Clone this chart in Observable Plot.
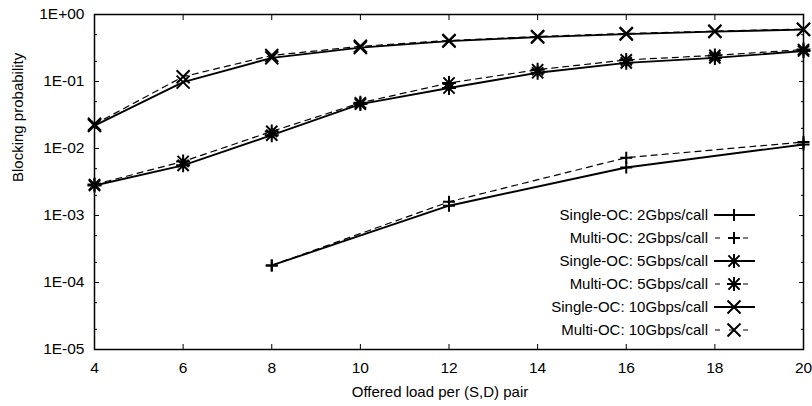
<!DOCTYPE html>
<html><head><meta charset="utf-8">
<script src="https://cdn.jsdelivr.net/npm/d3@7"></script>
<script src="https://cdn.jsdelivr.net/npm/@observablehq/plot@0.6"></script>
<style>body{margin:0;background:#fff} svg{display:block}</style>
</head><body><div id="chart"></div>
<script>
// ---- data ----
const loads = [4, 6, 8, 10, 12, 14, 16, 18, 20];
const loads2 = [8, 12, 16, 20];
const single2 = [0.00018, 0.0014, 0.0052, 0.0115];
const multi2  = [0.00018, 0.0016, 0.0073, 0.0125];
const single5 = [0.0028, 0.0056, 0.0158, 0.046, 0.080, 0.135, 0.190, 0.225, 0.285];
const multi5  = [0.0029, 0.0064, 0.0180, 0.048, 0.095, 0.150, 0.210, 0.245, 0.300];
const single10 = [0.022, 0.098, 0.225, 0.320, 0.400, 0.460, 0.510, 0.555, 0.595];
const multi10  = [0.023, 0.118, 0.245, 0.335, 0.410, 0.470, 0.520, 0.565, 0.605];
const seriesNames = ["Single-OC: 2Gbps/call", "Multi-OC: 2Gbps/call", "Single-OC: 5Gbps/call",
                     "Multi-OC: 5Gbps/call", "Single-OC: 10Gbps/call", "Multi-OC: 10Gbps/call"];
const xTicks = [4, 6, 8, 10, 12, 14, 16, 18, 20];
const yTicks = [1e-5, 1e-4, 1e-3, 1e-2, 1e-1, 1];
const yTickLabels = ["1E-05", "1E-04", "1E-03", "1E-02", "1E-01", "1E+00"];
const yMinorTicks = [2e-5, 5e-5, 2e-4, 5e-4, 2e-3, 5e-3, 2e-2, 5e-2, 0.2, 0.5];
const xLabel = "Offered load per (S,D) pair";
const yLabel = "Blocking probability";

// ---- gnuplot-like point symbols ----
const plusSym = {draw(c, s) { const r = Math.sqrt(s / Math.PI);
  c.moveTo(-r, 0); c.lineTo(r, 0); c.moveTo(0, -r); c.lineTo(0, r); }};
const timesSym = {draw(c, s) { const r = Math.sqrt(s / Math.PI);
  c.moveTo(-r, -r); c.lineTo(r, r); c.moveTo(-r, r); c.lineTo(r, -r); }};
const starSym = {draw(c, s) { const r = Math.sqrt(s / Math.PI); const q = r * 0.8;
  c.moveTo(-r, 0); c.lineTo(r, 0); c.moveTo(0, -r); c.lineTo(0, r);
  c.moveTo(-q, -q); c.lineTo(q, q); c.moveTo(-q, q); c.lineTo(q, -q); }};

const seriesDefs = [
  {name: seriesNames[0], xs: loads2, ys: single2, dashed: false, sym: plusSym, r: 6},
  {name: seriesNames[1], xs: loads2, ys: multi2, dashed: true, sym: plusSym, r: 6},
  {name: seriesNames[2], xs: loads, ys: single5, dashed: false, sym: starSym, r: 7},
  {name: seriesNames[3], xs: loads, ys: multi5, dashed: true, sym: starSym, r: 7},
  {name: seriesNames[4], xs: loads, ys: single10, dashed: false, sym: timesSym, r: 6.5},
  {name: seriesNames[5], xs: loads, ys: multi10, dashed: true, sym: timesSym, r: 6.5}
];
const rows = seriesDefs.flatMap(s => s.xs.map((x, i) => ({name: s.name, x, y: s.ys[i], dashed: s.dashed})));
const solidRows = rows.filter(d => !d.dashed);
const dashRows = rows.filter(d => d.dashed);

const FONT = "'Liberation Sans', Arial, Helvetica, sans-serif";
const DASH = "6,5";

const plot = Plot.plot({
  width: 812, height: 406,
  marginLeft: 94, marginRight: 9, marginTop: 14, marginBottom: 57,
  style: {fontFamily: FONT, fontSize: "15px", color: "#000", background: "#fff"},
  x: {domain: [4, 20]},
  y: {type: "log", domain: [1e-5, 1]},
  marks: [
    // tick labels
    Plot.axisY(yTicks, {anchor: "left", tickSize: 0, tickPadding: 10, label: null, fontSize: 15.5,
      tickFormat: d => yTickLabels[yTicks.indexOf(d)]}),
    Plot.axisX(xTicks, {anchor: "bottom", tickSize: 0, tickPadding: 12, label: null, fontSize: 15.5}),
    // inward ticks on all four sides
    Plot.axisY(yTicks, {anchor: "left", tickSize: -5, tickFormat: () => "", label: null}),
    Plot.axisY(yTicks, {anchor: "right", tickSize: -5, tickFormat: () => "", label: null}),
    Plot.axisY(yMinorTicks, {anchor: "left", tickSize: -3, tickFormat: () => "", label: null}),
    Plot.axisY(yMinorTicks, {anchor: "right", tickSize: -3, tickFormat: () => "", label: null}),
    Plot.axisX(xTicks, {anchor: "bottom", tickSize: -5, tickFormat: () => "", label: null}),
    Plot.axisX(xTicks, {anchor: "top", tickSize: -5, tickFormat: () => "", label: null}),
    // axis titles
    Plot.text([yLabel], {text: d => d, frameAnchor: "left", rotate: -90, dx: -76, fontSize: 15}),
    Plot.text([xLabel], {text: d => d, frameAnchor: "bottom", dy: 47, dx: -9, fontSize: 15}),
    // data lines
    Plot.line(dashRows, {x: "x", y: "y", z: "name", stroke: "#000", strokeWidth: 1.2, strokeDasharray: DASH}),
    Plot.line(solidRows, {x: "x", y: "y", z: "name", stroke: "#000", strokeWidth: 1.9}),
    // data points
    ...seriesDefs.map(s => Plot.dot(rows.filter(d => d.name === s.name),
      {x: "x", y: "y", symbol: s.sym, r: s.r, stroke: "#000", strokeWidth: 2, fill: "none"})),
    Plot.frame({stroke: "#000", strokeWidth: 1.5})
  ]
});

// ---- legend (inside plot, lower right) ----
const svg = d3.select(plot);
const lg = svg.append("g").attr("font-family", FONT).attr("font-size", 15).attr("fill", "#000");
seriesDefs.forEach((s, i) => {
  const y = 215 + i * 23;
  lg.append("text").attr("x", 708).attr("y", y).attr("dy", "0.35em").attr("text-anchor", "end").text(s.name);
  if (s.dashed) {
    lg.append("line").attr("x1", 715).attr("x2", 749).attr("y1", y).attr("y2", y)
      .attr("stroke", "#000").attr("stroke-width", 1.2).attr("stroke-dasharray", "5,9");
  } else {
    lg.append("line").attr("x1", 714).attr("x2", 755).attr("y1", y).attr("y2", y)
      .attr("stroke", "#000").attr("stroke-width", 1.9);
  }
  lg.append("path").attr("transform", `translate(734,${y})`)
    .attr("d", d3.symbol(s.sym, Math.PI * s.r * s.r)())
    .attr("fill", "none").attr("stroke", "#000").attr("stroke-width", 2);
});

document.getElementById("chart").appendChild(plot);
</script>
</body></html>
